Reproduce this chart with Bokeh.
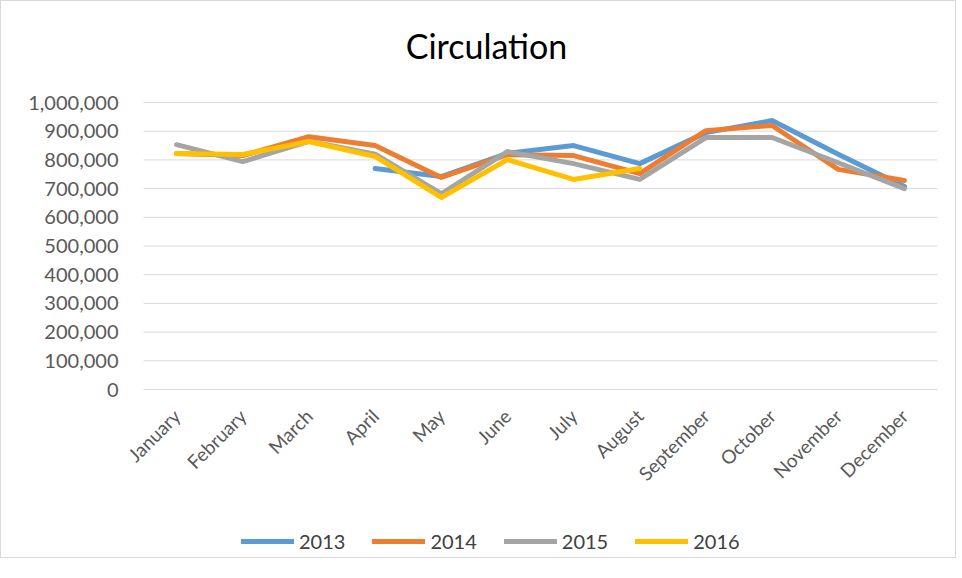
import math
from bokeh.plotting import figure
from bokeh.models import Legend, LegendItem, NumeralTickFormatter, FixedTicker, Label
from bokeh.embed import file_html
from bokeh.resources import INLINE

NaN = float("nan")
title_text = "Circulation"
months = ["January", "February", "March", "April", "May", "June", "July",
          "August", "September", "October", "November", "December"]
s2013 = [NaN, NaN, NaN, 770000, 742000, 823000, 850000, 787000, 895000, 937000, 820000, 707000]
s2014 = [822000, 815000, 881000, 850000, 739000, 818000, 815000, 752000, 902000, 920000, 767000, 728000]
s2015 = [853000, 794000, 865000, 820000, 682000, 829000, 787000, 732000, 878000, 878000, 790000, 700000]
s2016 = [822000, 819000, 864000, 812000, 669000, 801000, 732000, 770000, NaN, NaN, NaN, NaN]
series = [("2013", s2013, "#5B9BD5"), ("2014", s2014, "#ED7D31"),
          ("2015", s2015, "#A5A5A5"), ("2016", s2016, "#FFC000")]
y_ticks = list(range(0, 1000001, 100000))

x_idx = list(range(len(months)))

# ---- layout (pixels) ----
# the frame covers the whole chart: the value axis occupies 287px starting
# 101px from the top; room above holds the title, room below the category
# labels and legend; a little room on the left keeps "January" unclipped
PLOT_W = 794
PLOT_H = 287
TOP_H = 101
BOTTOM_H = 168
LEFT_PAD = 22
LEFT_BORDER = 142 - LEFT_PAD
CAT_W = PLOT_W / len(months)
VAL_MAX = 1000000
px = VAL_MAX / PLOT_H
y_top = VAL_MAX + TOP_H * px
y_bottom = -BOTTOM_H * px
x_lo = -0.5
x_hi = len(months) - 0.5
x_start = x_lo - LEFT_PAD / CAT_W

FONT = "Lato"
p = figure(x_range=(x_start, x_hi), y_range=(y_bottom, y_top),
           frame_width=PLOT_W + LEFT_PAD, frame_height=TOP_H + PLOT_H + BOTTOM_H,
           min_border_left=LEFT_BORDER, min_border_right=18, min_border_top=0, min_border_bottom=0,
           output_backend="svg", toolbar_location=None)

# title: centred at page x ~485, near the top
title_x = x_lo + (485 - 142) / CAT_W
title_y = VAL_MAX + (TOP_H - 44) * px
p.add_layout(Label(x=title_x, y=title_y, text=title_text, text_align="center",
                   text_baseline="alphabetic", text_font=FONT, text_font_size="34px",
                   text_color="#000000"))

# gridlines across the category area only
p.segment(x0=x_lo, x1=x_hi, y0=y_ticks, y1=y_ticks, line_color="#D9D9D9", line_width=1)

renderers = []
for name, vals, col in series:
    r = p.line(x_idx, vals, line_width=5, line_color=col, line_join="round", line_cap="round")
    renderers.append((name, r))

p.yaxis.ticker = FixedTicker(ticks=y_ticks)
p.yaxis.formatter = NumeralTickFormatter(format="0,0")
p.xaxis.ticker = FixedTicker(ticks=x_idx)
p.xaxis.major_label_overrides = {i: m for i, m in zip(x_idx, months)}
for ax in (p.xaxis, p.yaxis):
    ax.major_label_text_font = FONT
    ax.major_label_text_font_size = "19px"
    ax.major_label_text_color = "#595959"
    ax.major_tick_line_color = None
    ax.minor_tick_line_color = None
    ax.axis_line_color = None
p.yaxis.major_label_text_font_size = "20px"
p.xaxis.fixed_location = 0
p.xaxis.major_label_orientation = math.pi / 4
p.yaxis.major_label_standoff = -3
p.xaxis.major_label_standoff = 17
p.xgrid.grid_line_color = None
p.ygrid.grid_line_color = None
p.outline_line_color = None

legend = Legend(items=[LegendItem(label=n, renderers=[r]) for n, r in renderers],
                orientation="horizontal", location=(98 + LEFT_PAD, 4),
                label_text_font=FONT, label_text_font_size="20px", label_text_color="#404040",
                glyph_width=53, glyph_height=14, label_standoff=5, spacing=27,
                border_line_color=None, background_fill_alpha=0, margin=0, padding=0)
p.add_layout(legend, "center")

p.styles = {"border": "1px solid #D9D9D9"}

open("out.html", "w").write(file_html(p, INLINE))
